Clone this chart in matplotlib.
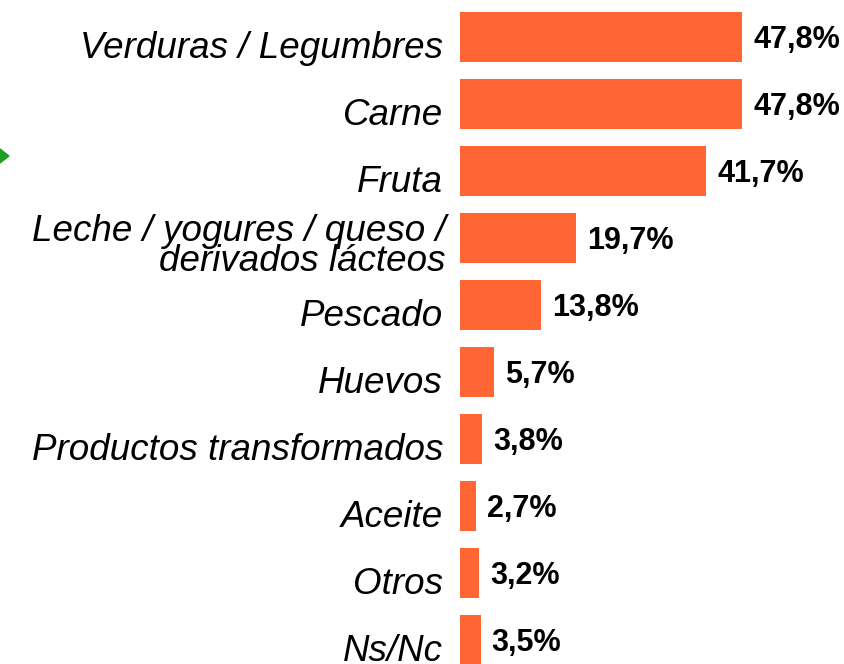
import matplotlib.pyplot as plt
from matplotlib.patches import Polygon
from matplotlib.transforms import offset_copy

plt.rcParams['font.family'] = ['Liberation Sans', 'DejaVu Sans']

categories = [
    "Verduras / Legumbres",
    "Carne",
    "Fruta",
    "Leche / yogures / queso /\nderivados lácteos",
    "Pescado",
    "Huevos",
    "Productos transformados",
    "Aceite",
    "Otros",
    "Ns/Nc",
]
values = [47.8, 47.8, 41.7, 19.7, 13.8, 5.7, 3.8, 2.7, 3.2, 3.5]
value_labels = ["47,8%", "47,8%", "41,7%", "19,7%", "13,8%",
                "5,7%", "3,8%", "2,7%", "3,2%", "3,5%"]

W, H = 844, 664
fig = plt.figure(figsize=(W / 100, H / 100), dpi=100)

# axes placed so bar base sits at x=460px, row pitch ~67px
ax = fig.add_axes([460 / W, 0, (W - 460) / W, 1])
ax.set_xlim(0, (W - 460) / 5.9)
pitch = 67
ax.set_ylim((H - 37) / pitch, -37 / pitch)
ax.axis("off")

ypos = list(range(len(categories)))
ax.barh(ypos, values, height=0.75, color="#FF6633")

for y, v, lab, cat in zip(ypos, values, value_labels, categories):
    tr = offset_copy(ax.transData, fig=fig, x=11, y=-3, units="dots")
    ax.text(v, y, lab, transform=tr, ha="left", va="center",
            fontsize=22, fontweight="bold", color="black")
    if "\n" in cat:
        # baseline refers to the last line here
        trl = offset_copy(ax.transData, fig=fig, x=-14, y=-33, units="dots")
        ax.text(0, y, cat, transform=trl, ha="right", va="baseline",
                multialignment="right", fontsize=26.5, style="italic",
                linespacing=0.8)
    else:
        trl = offset_copy(ax.transData, fig=fig, x=-17, y=-21, units="dots")
        ax.text(0, y, cat, transform=trl, ha="right", va="baseline",
                fontsize=26.5, style="italic")

# small green arrow head at the left edge
fig.patches.append(Polygon([[0, 1 - 149 / H], [9 / W, 1 - 156 / H], [0, 1 - 163 / H]],
                           closed=True, transform=fig.transFigure,
                           color="#1E9E1E"))

fig.savefig("out.png", dpi=100)
